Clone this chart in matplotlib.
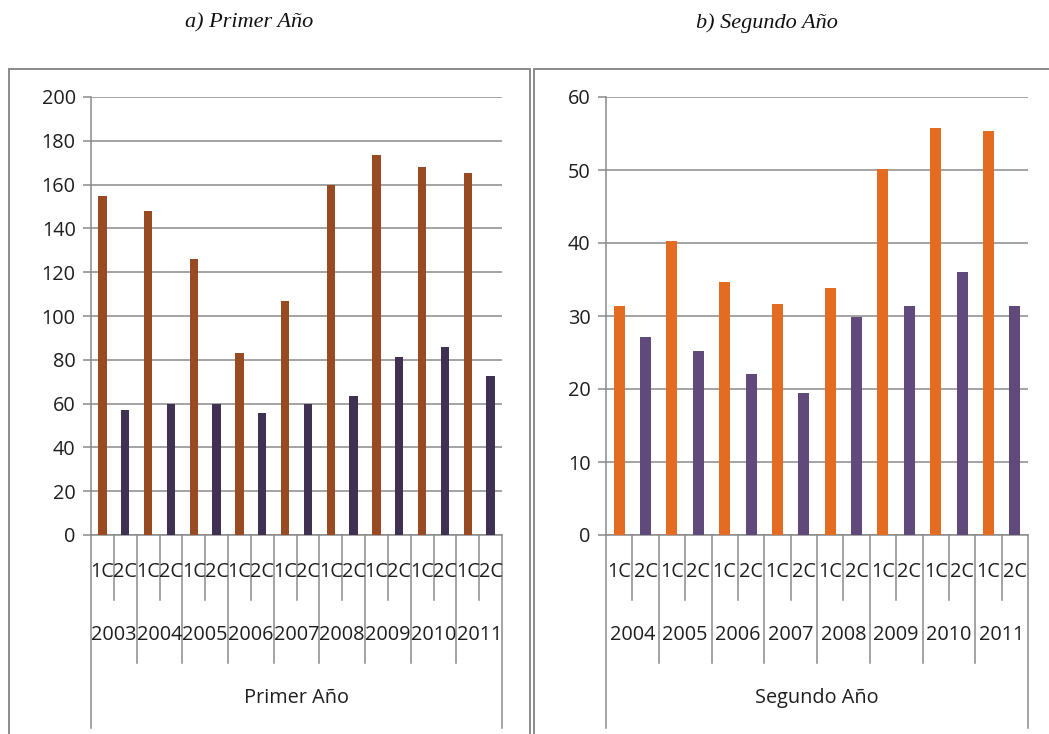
import matplotlib
matplotlib.use("Agg")
import matplotlib.pyplot as plt
from matplotlib.patches import Rectangle
from matplotlib.transforms import blended_transform_factory

# ---------------- data ----------------
years_a = ["2003", "2004", "2005", "2006", "2007", "2008", "2009", "2010", "2011"]
c1_a = [155, 148, 126, 83, 107, 160, 173.5, 168, 165.5]
c2_a = [57, 60, 60, 55.5, 60, 63.5, 81.5, 86, 72.5]

years_b = ["2004", "2005", "2006", "2007", "2008", "2009", "2010", "2011"]
c1_b = [31.4, 40.3, 34.6, 31.6, 33.8, 50.1, 55.8, 55.3]
c2_b = [27.1, 25.2, 22.0, 19.5, 29.9, 31.4, 36.0, 31.4]

sem_labels = ["1C", "2C"]
title_a = "a) Primer Año"
title_b = "b) Segundo Año"
group_a = "Primer Año"
group_b = "Segundo Año"
yticks_a = [0, 20, 40, 60, 80, 100, 120, 140, 160, 180, 200]
yticks_b = [0, 10, 20, 30, 40, 50, 60]

# ---------------- figure ----------------
W, H = 1049, 734
fig = plt.figure(figsize=(W / 100, H / 100), dpi=100)
fig.patch.set_facecolor("white")

FONT = ["Open Sans", "DejaVu Sans"]
FS = 14.3
TXT = "#1e1e1e"
GRID = "#8a8a8a"


def fx(px):
    return px / W


def fy(py):
    return 1 - py / H


# panel frames
fig.patches.append(Rectangle((fx(8.5), fy(760)), fx(530 - 8.5), fy(69) - fy(760),
                             transform=fig.transFigure, fill=False,
                             edgecolor=GRID, lw=1.4, zorder=0))
fig.patches.append(Rectangle((fx(534), fy(760)), fx(1070 - 534), fy(69) - fy(760),
                             transform=fig.transFigure, fill=False,
                             edgecolor=GRID, lw=1.4, zorder=0))

# titles
fig.text(fx(249), fy(23), title_a, ha="center", va="center",
         fontsize=16, style="italic", family=["Liberation Serif"], color="#111111")
fig.text(fx(767), fy(23), title_b, ha="center", va="center",
         fontsize=16, style="italic", family=["Liberation Serif"], color="#111111")


def panel(left_px, right_px, years, c1, c2, yticks, col1, col2, bar_w, group):
    ax = fig.add_axes([fx(left_px), fy(535), fx(right_px - left_px), fy(97) - fy(535)])
    n = len(years)
    pos1 = [2 * i for i in range(n)]
    pos2 = [2 * i + 1 for i in range(n)]
    ax.bar(pos1, c1, width=bar_w, color=col1, zorder=3)
    ax.bar(pos2, c2, width=bar_w, color=col2, zorder=3)
    ax.set_xlim(-0.5, 2 * n - 0.5)
    ax.set_ylim(yticks[0], yticks[-1])
    ax.set_yticks(yticks)
    ax.set_yticklabels([str(t) for t in yticks], fontsize=FS, color=TXT, family=FONT)
    ax.set_xticks([])
    ax.tick_params(axis="y", length=6, width=1.1, color=GRID, pad=5)
    ax.yaxis.grid(True, color=GRID, lw=1.1, zorder=1)
    for s in ["top", "right"]:
        ax.spines[s].set_visible(False)
    ax.spines["left"].set_color(GRID)
    ax.spines["bottom"].set_color(GRID)
    ax.spines["left"].set_linewidth(1.1)
    ax.spines["bottom"].set_linewidth(1.1)

    tr = blended_transform_factory(ax.transData, fig.transFigure)
    y0 = fy(535)
    # category separator lines
    for i in range(n):
        ax.plot([2 * i + 0.5, 2 * i + 0.5], [y0, fy(600)], transform=tr,
                color=GRID, lw=1.1, clip_on=False)
    for i in range(1, n):
        ax.plot([2 * i - 0.5, 2 * i - 0.5], [y0, fy(663)], transform=tr,
                color=GRID, lw=1.1, clip_on=False)
    for xb in [-0.5, 2 * n - 0.5]:
        ax.plot([xb, xb], [y0, fy(728)], transform=tr,
                color=GRID, lw=1.1, clip_on=False)
    # labels
    for i in range(n):
        for k, lab in enumerate(sem_labels):
            ax.text(2 * i + k, fy(572), lab, transform=tr, ha="center", va="center",
                    fontsize=FS, color=TXT, family=FONT)
        ax.text(2 * i + 0.5, fy(635), years[i], transform=tr, ha="center", va="center",
                fontsize=FS, color=TXT, family=FONT)
    ax.text(n - 0.5, fy(698), group, transform=tr, ha="center", va="center",
            fontsize=FS, color=TXT, family=FONT)
    return ax


panel(91, 502, years_a, c1_a, c2_a, yticks_a, "#984B22", "#3F3151", 0.36, group_a)
panel(606, 1028, years_b, c1_b, c2_b, yticks_b, "#E46C22", "#604A7B", 0.42, group_b)

fig.savefig("out.png", dpi=100, facecolor="white")
